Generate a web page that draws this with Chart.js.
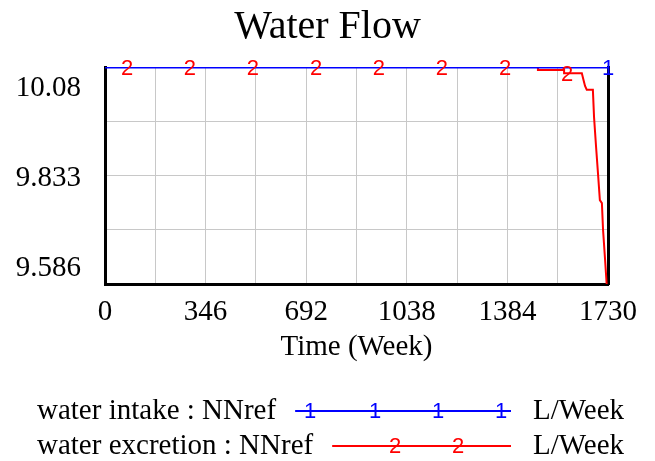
<!DOCTYPE html>
<html>
<head>
<meta charset="utf-8">
<title>Water Flow</title>
<script src="https://cdn.jsdelivr.net/npm/chart.js@4.4.1/dist/chart.umd.min.js"></script>
<style>
  html, body { margin: 0; padding: 0; background: #fff; }
  canvas { display: block; }
</style>
</head>
<body>
<canvas id="chart" width="655" height="461"></canvas>
<script>
// data (Time in weeks, L/Week)
const intakeTime = [0, 1730];
const intakeValue = [10.08, 10.08];

const excretionTime = [0, 1489, 1489, 1579, 1579, 1640, 1646, 1651, 1657, 1678, 1682, 1689, 1696, 1702, 1709, 1713, 1720, 1726];
const excretionValue = [10.08, 10.08, 10.073, 10.073, 10.066, 10.066, 10.05, 10.037, 10.028, 10.028, 9.966, 9.898, 9.834, 9.777, 9.77, 9.709, 9.641, 9.58];

// where the series number glyphs sit on the lines
const intakeMarkTime = [1730];
const intakeMarkValue = [10.08];
const excretionMarkTime = [76, 292, 509, 726, 942, 1159, 1376, 1589];
const excretionMarkValue = [10.08, 10.08, 10.08, 10.08, 10.08, 10.08, 10.08, 10.066];

const xTicks = [0, 173, 346, 519, 692, 865, 1038, 1211, 1384, 1557, 1730];
const xLabels = [0, 346, 692, 1038, 1384, 1730];
const yTicks = [9.586, 9.7095, 9.833, 9.9565, 10.08];
const yLabels = ['9.586', '9.833', '10.08'];

const serif = "'Liberation Serif', 'Times New Roman', serif";
const sans = "'Liberation Sans', Arial, sans-serif";

const toPoints = (xs, ys) => xs.map((x, i) => ({ x: x, y: ys[i] }));

// draws the "1" / "2" glyphs on the lines
const markerPlugin = {
    id: 'markers',
    afterDatasetsDraw(chart) {
        const ctx = chart.ctx;
        ctx.save();
        ctx.font = '22px ' + sans;
        ctx.textAlign = 'center';
        ctx.textBaseline = 'middle';
        chart.data.datasets.forEach((ds, i) => {
            if (!ds.markText) return;
            ctx.fillStyle = ds.markColor;
            chart.getDatasetMeta(i).data.forEach(el => {
                ctx.fillText(ds.markText, el.x, el.y + 2);
            });
        });
        ctx.restore();
    }
};

// vensim style legend under the axis
const legendPlugin = {
    id: 'vensimLegend',
    afterDraw(chart) {
        const ctx = chart.ctx;
        const rows = [
            { label: 'water intake : NNref', color: '#0000ff', mark: '1', y: 411, marks: [310, 375, 438, 501] },
            { label: 'water excretion : NNref', color: '#ff0000', mark: '2', y: 446, marks: [395, 458] }
        ];
        ctx.save();
        rows.forEach(r => {
            ctx.font = '29px ' + serif;
            ctx.fillStyle = '#000';
            ctx.textAlign = 'left';
            ctx.textBaseline = 'middle';
            ctx.fillText(r.label, 37, r.y);
            const w = ctx.measureText(r.label).width;
            ctx.fillText('L/Week', 533, r.y);

            ctx.strokeStyle = r.color;
            ctx.lineWidth = 2;
            ctx.beginPath();
            ctx.moveTo(37 + w + 19, r.y);
            ctx.lineTo(511, r.y);
            ctx.stroke();

            ctx.font = '22px ' + sans;
            ctx.fillStyle = r.color;
            ctx.textAlign = 'center';
            r.marks.forEach(mx => ctx.fillText(r.mark, mx, r.y + 1));
        });
        ctx.restore();
    }
};

new Chart(document.getElementById('chart'), {
    type: 'line',
    data: {
        datasets: [
            {
                label: 'water intake : NNref',
                data: toPoints(intakeTime, intakeValue),
                borderColor: '#0000ff',
                borderWidth: 3,
                pointRadius: 0,
                tension: 0
            },
            {
                label: 'water excretion : NNref',
                data: toPoints(excretionTime, excretionValue),
                borderColor: '#ff0000',
                borderWidth: 2,
                pointRadius: 0,
                tension: 0
            },
            {
                label: 'intake marks',
                data: toPoints(intakeMarkTime, intakeMarkValue),
                showLine: false,
                pointRadius: 0,
                markText: '1',
                markColor: '#0000ff'
            },
            {
                label: 'excretion marks',
                data: toPoints(excretionMarkTime, excretionMarkValue),
                showLine: false,
                pointRadius: 0,
                markText: '2',
                markColor: '#ff0000'
            }
        ]
    },
    options: {
        responsive: false,
        animation: false,
        layout: { padding: { left: 0, right: 0, top: 0, bottom: 96 } },
        plugins: {
            legend: { display: false },
            tooltip: { enabled: false },
            title: {
                display: true,
                text: 'Water Flow',
                color: '#000',
                font: { family: serif, size: 40, weight: 'normal' },
                padding: { top: 3, bottom: 16 }
            }
        },
        scales: {
            x: {
                type: 'linear',
                min: 0,
                max: 1730,
                afterBuildTicks: scale => { scale.ticks = xTicks.map(v => ({ value: v })); },
                afterFit: scale => { scale.height = 81; },
                ticks: {
                    autoSkip: false,
                    maxRotation: 0,
                    minRotation: 0,
                    padding: 11,
                    color: '#000',
                    font: { family: serif, size: 29 },
                    callback: value => xLabels.includes(value) ? String(value) : ''
                },
                grid: { color: '#c8c8c8', lineWidth: 1, drawTicks: false },
                border: { color: '#000', width: 3 },
                title: {
                    display: true,
                    text: 'Time (Week)',
                    color: '#000',
                    font: { family: serif, size: 29 },
                    padding: { top: 2, bottom: 0 }
                }
            },
            y: {
                min: 9.586,
                max: 10.08,
                afterBuildTicks: scale => { scale.ticks = yTicks.map(v => ({ value: v })); },
                afterFit: scale => { scale.width = 105; },
                ticks: {
                    autoSkip: false,
                    padding: 24,
                    labelOffset: 3,
                    color: '#000',
                    font: { family: serif, size: 29, lineHeight: 1.3 },
                    callback: value => {
                        const lab = yLabels.find(l => Math.abs(Number(l) - value) < 1e-6);
                        if (!lab) return '';
                        if (value === yTicks[yTicks.length - 1]) return ['', lab];
                        if (value === yTicks[0]) return [lab, ''];
                        return lab;
                    }
                },
                grid: { color: '#c8c8c8', lineWidth: 1, drawTicks: false },
                border: { color: '#000', width: 3 }
            },
            right: {
                position: 'right',
                min: 9.586,
                max: 10.08,
                afterFit: scale => { scale.width = 47; },
                ticks: { display: false },
                grid: { display: false, drawTicks: false },
                border: { color: '#000', width: 3 }
            }
        }
    },
    plugins: [markerPlugin, legendPlugin]
});
</script>
</body>
</html>
